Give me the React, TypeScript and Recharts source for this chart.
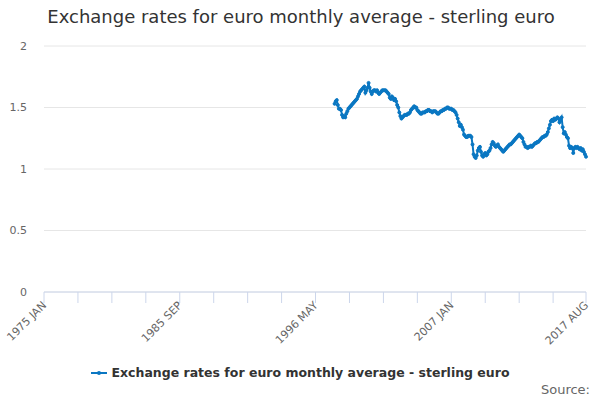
import { LineChart, Line, XAxis, YAxis, CartesianGrid } from 'recharts';

const FONT = '"DejaVu Sans", sans-serif';
const BLUE = '#0a77c2';

const MONTHS = ['JAN', 'FEB', 'MAR', 'APR', 'MAY', 'JUN', 'JUL', 'AUG', 'SEP', 'OCT', 'NOV', 'DEC'];
const FIRST_YEAR = 1975;
const LAST_MONTH = '2017 AUG';
const FIRST_VALUE_MONTH = '1997 NOV';

// monthly average, euro per pound sterling (1997 NOV .. 2017 AUG)
const sterlingEuro = [
	1.53, 1.55,
	1.56, 1.52, 1.49, 1.49, 1.48, 1.44, 1.42, 1.43, 1.42, 1.45, 1.47, 1.49,
	1.50, 1.51, 1.52, 1.53, 1.54, 1.55, 1.56, 1.57, 1.59, 1.61, 1.63, 1.64,
	1.65, 1.66, 1.67, 1.62, 1.64, 1.66, 1.70, 1.66, 1.63, 1.61, 1.63, 1.64,
	1.64, 1.63, 1.64, 1.62, 1.61, 1.62, 1.63, 1.64, 1.64, 1.64, 1.64, 1.63,
	1.62, 1.61, 1.58, 1.57, 1.59, 1.58, 1.56, 1.57, 1.55, 1.52, 1.50, 1.46,
	1.43, 1.41, 1.42, 1.43, 1.44, 1.44, 1.44, 1.45, 1.45, 1.46, 1.48, 1.49,
	1.50, 1.51, 1.50, 1.50, 1.48, 1.47, 1.46, 1.45, 1.45, 1.46, 1.46, 1.46,
	1.47, 1.47, 1.48, 1.48, 1.47, 1.47, 1.46, 1.47, 1.47, 1.47, 1.46, 1.45,
	1.45, 1.46, 1.47, 1.47, 1.48, 1.48, 1.49, 1.49, 1.50, 1.50, 1.49, 1.49,
	1.49, 1.48, 1.48, 1.47, 1.46, 1.44, 1.41, 1.38, 1.35, 1.36, 1.34, 1.32,
	1.28, 1.27, 1.26, 1.26, 1.27, 1.27, 1.27, 1.26, 1.20, 1.12, 1.10, 1.09,
	1.11, 1.15, 1.17, 1.18, 1.14, 1.11, 1.10, 1.12, 1.13, 1.11, 1.12, 1.14,
	1.15, 1.17, 1.20, 1.22, 1.21, 1.19, 1.18, 1.19, 1.20, 1.18, 1.17, 1.16,
	1.15, 1.14, 1.15, 1.16, 1.17, 1.18, 1.19, 1.20, 1.20, 1.21, 1.22, 1.23,
	1.24, 1.25, 1.26, 1.27, 1.28, 1.27, 1.26, 1.25, 1.22, 1.20, 1.18, 1.18,
	1.17, 1.18, 1.18, 1.19, 1.18, 1.19, 1.20, 1.21, 1.21, 1.22, 1.22, 1.23,
	1.24, 1.25, 1.26, 1.26, 1.27, 1.27, 1.28, 1.30, 1.33, 1.36, 1.39, 1.40,
	1.39, 1.41, 1.40, 1.41, 1.42, 1.41, 1.38, 1.40, 1.42, 1.34, 1.29, 1.30,
	1.28, 1.26, 1.25, 1.19, 1.17, 1.18, 1.17, 1.13, 1.17, 1.18, 1.17, 1.18,
	1.17, 1.16, 1.17, 1.15, 1.16, 1.14, 1.12, 1.10,
];

const labelledMonths = ['1975 JAN', '1985 SEP', '1996 MAY', '2007 JAN', '2017 AUG'];
const yTicks = [0, 0.5, 1, 1.5, 2];
const TICK_STEP = 32;

const SERIES_NAME = 'Exchange rates for euro monthly average - sterling euro';

// month categories from 1975 JAN up to LAST_MONTH
const months: string[] = [];
for (let y = FIRST_YEAR; months[months.length - 1] !== LAST_MONTH; y++) {
	for (const m of MONTHS) {
		months.push(`${y} ${m}`);
		if (`${y} ${m}` === LAST_MONTH) break;
	}
}
const start = months.indexOf(FIRST_VALUE_MONTH);
const data = months.map((month, i) => ({
	month,
	value: i >= start && i - start < sterlingEuro.length ? sterlingEuro[i - start] : null,
}));
const tickMonths = months.filter((_, i) => i % TICK_STEP === 0 && i < months.length - 8);
tickMonths.push(LAST_MONTH);

function XTick(props: any) {
	const { x, y, payload } = props;
	if (!labelledMonths.includes(payload.value)) return null;
	const tx = x + 3;
	const ty = y + 1;
	return (
		<text x={tx} y={ty} textAnchor="end" fill="#666" fontSize={11} fontFamily={FONT}
			transform={`rotate(-45 ${tx} ${ty})`}>
			{payload.value}
		</text>
	);
}

export default function App() {
	return (
		<div style={{ position: 'absolute', left: 0, top: 0, width: 600, height: 400, background: '#fff', fontFamily: FONT }}>
			<div style={{ position: 'absolute', left: 0, top: 6, width: 602, textAlign: 'center', fontSize: 18, color: '#333' }}>
				{SERIES_NAME}
			</div>
			<LineChart width={600} height={400} data={data} margin={{ top: 46, right: 14, left: 0, bottom: 48 }}>
				<CartesianGrid vertical={false} stroke="#e6e6e6" />
				<YAxis
					width={44}
					domain={[0, 2]}
					ticks={yTicks}
					axisLine={false}
					tickLine={false}
					tickSize={0}
					tickMargin={17}
					tick={{ fill: '#666', fontSize: 11, fontFamily: FONT }}
				/>
				<XAxis
					dataKey="month"
					height={60}
					ticks={tickMonths}
					interval={0}
					tickSize={11}
					axisLine={{ stroke: '#ccd6eb' }}
					tickLine={{ stroke: '#ccd6eb' }}
					tick={<XTick />}
				/>
				<Line
					dataKey="value"
					stroke={BLUE}
					strokeWidth={2}
					dot={{ r: 1.5, fill: BLUE, stroke: BLUE, strokeWidth: 1 }}
					isAnimationActive={false}
				/>
			</LineChart>
			<div style={{ position: 'absolute', left: 0, top: 365, width: 600, display: 'flex', justifyContent: 'center', alignItems: 'center' }}>
				<svg width={16} height={10} style={{ marginRight: 5 }}>
					<line x1={0} y1={5} x2={16} y2={5} stroke={BLUE} strokeWidth={2} />
					<circle cx={8} cy={5} r={2} fill={BLUE} />
				</svg>
				<span style={{ fontSize: 12.5, fontWeight: 'bold', color: '#333' }}>{SERIES_NAME}</span>
			</div>
			<div style={{ position: 'absolute', right: 10, top: 382, fontSize: 13, color: '#666' }}>Source:</div>
		</div>
	);
}
